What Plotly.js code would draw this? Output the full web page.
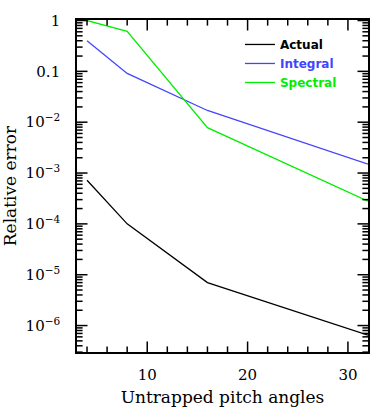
<!DOCTYPE html>
<html>
<head>
<meta charset="utf-8">
<script src="https://cdn.plot.ly/plotly-3.0.1.min.js"></script>
<style>
  html, body { margin: 0; padding: 0; background: #fff; }
  #chart { width: 383px; height: 415px; }
</style>
</head>
<body>
<div id="chart"></div>
<script>
// pitch angle counts
var angles = [4, 8, 16, 32];

// relative errors
var actual = [7.2e-4, 1.0e-4, 7.0e-6, 6.5e-7];
var integral = [0.40, 0.091, 0.017, 1.5e-3];
var spectral = [1.0, 0.61, 0.0078, 2.8e-4];

var xTickVals = [10, 20, 30];
var xMinorVals = [4, 6, 8, 12, 14, 16, 18, 22, 24, 26, 28];
var yTickVals = [1, 0.1, 1e-2, 1e-3, 1e-4, 1e-5, 1e-6];
var yTickText = ['1', '0.1', '10<sup>\u22122</sup>', '10<sup>\u22123</sup>',
  '10<sup>\u22124</sup>', '10<sup>\u22125</sup>', '10<sup>\u22126</sup>'];

var xRange = [3, 32];
var yRange = [-6.52, 0.01];
var fnt = 'DejaVu Serif, Liberation Serif, serif';

// minor log ticks 2..9 in every decade
var yMinorVals = [];
for (var d = -7; d < 0; d++) {
  for (var k = 2; k <= 9; k++) yMinorVals.push(k * Math.pow(10, d));
}

var trace1 = {
  x: angles, y: actual, mode: 'lines', name: 'Actual',
  line: {color: '#000000', width: 1.3}
};
var trace2 = {
  x: angles, y: integral, mode: 'lines',
  name: '<span style="color:#4444ff">Integral</span>',
  line: {color: '#4444ff', width: 1.3}
};
var trace3 = {
  x: angles, y: spectral, mode: 'lines',
  name: '<span style="color:#00ee00">Spectral</span>',
  line: {color: '#00ee00', width: 1.3}
};

// inward tick marks: line markers centred on the frame, clipped to the plot area
function tickMarks(xs, ys, symbol, size) {
  return {
    x: xs, y: ys, mode: 'markers', showlegend: false, hoverinfo: 'skip',
    cliponaxis: true,
    marker: {symbol: symbol, size: size, color: '#000', line: {color: '#000', width: 1.5}}
  };
}
function fill(v, n) { var a = []; for (var i = 0; i < n; i++) a.push(v); return a; }

var yBot = Math.pow(10, yRange[0]);
var yTop = Math.pow(10, yRange[1]);
var ticks = [
  tickMarks(xTickVals, fill(yBot, xTickVals.length), 'line-ns', 15),
  tickMarks(xTickVals, fill(yTop, xTickVals.length), 'line-ns', 15),
  tickMarks(xMinorVals, fill(yBot, xMinorVals.length), 'line-ns', 8),
  tickMarks(xMinorVals, fill(yTop, xMinorVals.length), 'line-ns', 8),
  tickMarks(fill(xRange[0], yTickVals.length), yTickVals, 'line-ew', 15),
  tickMarks(fill(xRange[1], yTickVals.length), yTickVals, 'line-ew', 15),
  tickMarks(fill(xRange[0], yMinorVals.length), yMinorVals, 'line-ew', 8),
  tickMarks(fill(xRange[1], yMinorVals.length), yMinorVals, 'line-ew', 8)
];

var layout = {
  width: 383, height: 415,
  margin: {l: 77, r: 15, t: 20, b: 63},
  paper_bgcolor: '#fff', plot_bgcolor: '#fff',
  font: {family: fnt, size: 15, color: '#000'},
  showlegend: true,
  legend: {
    x: 0.56, y: 0.97, xanchor: 'left', yanchor: 'top',
    bgcolor: 'rgba(0,0,0,0)', borderwidth: 0,
    font: {family: 'DejaVu Sans, sans-serif', size: 12, weight: 'bold', color: '#000'},
    tracegroupgap: 0, itemwidth: 30
  },
  xaxis: {
    range: xRange,
    title: {text: 'Untrapped pitch angles', font: {size: 17}, standoff: 8},
    tickvals: xTickVals, ticks: '',
    showline: true, linecolor: '#000', linewidth: 1.8, mirror: true,
    showgrid: false, zeroline: false,
    ticklabelstandoff: 8
  },
  yaxis: {
    type: 'log',
    range: yRange,
    title: {text: 'Relative error', font: {size: 17}, standoff: 6},
    tickvals: yTickVals, ticktext: yTickText, ticks: '',
    showline: true, linecolor: '#000', linewidth: 1.8, mirror: true,
    showgrid: false, zeroline: false,
    ticklabelstandoff: 12
  }
};

Plotly.newPlot('chart', [trace1, trace2, trace3].concat(ticks), layout, {displayModeBar: false, staticPlot: true});
</script>
</body>
</html>
